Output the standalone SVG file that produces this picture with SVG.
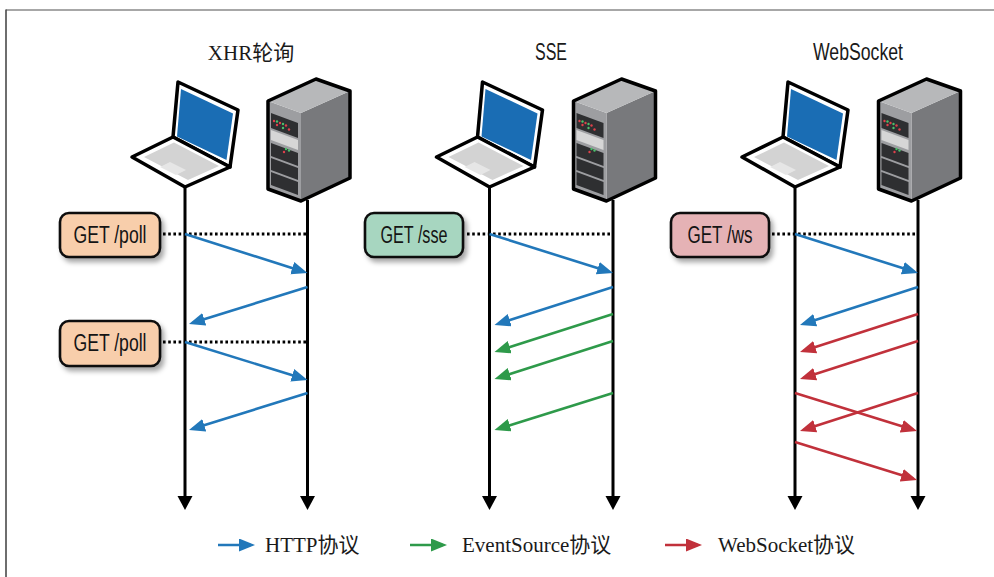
<svg xmlns="http://www.w3.org/2000/svg" width="994" height="577" viewBox="0 0 994 577">
  <style>
    .title-serif { font-family: "Liberation Serif", "Noto Sans CJK SC", serif; font-size: 21px; fill: #1a1a1a; }
    .title-sans { font-family: "Liberation Sans", "Noto Sans", sans-serif; font-size: 24px; fill: #1a1a1a; }
    .lbl { font-family: "Liberation Sans", "Noto Sans", sans-serif; font-size: 23px; fill: #141414; }
    .legend { font-family: "Liberation Serif", "Noto Sans CJK SC", serif; font-size: 21px; fill: #1a1a1a; }
    .life { stroke: #000; stroke-width: 3; fill: none; marker-end: url(#lifeHead); }
    .dots { stroke: #000; stroke-width: 3; stroke-dasharray: 2.6 2.6; fill: none; }
    .http { stroke: #2278ba; stroke-width: 2.6; fill: none; marker-end: url(#headBlue); }
    .es { stroke: #2e9a4a; stroke-width: 2.6; fill: none; marker-end: url(#headGreen); }
    .ws { stroke: #c1313b; stroke-width: 2.6; fill: none; marker-end: url(#headRed); }
    .box { stroke: #111; stroke-width: 2.6; filter: url(#shadow); }
    .outline { fill: none; stroke: #000; stroke-width: 3.5; stroke-linejoin: round; }
  </style>
  <defs>
    <filter id="shadow" x="-20%" y="-30%" width="150%" height="170%">
      <feDropShadow dx="3" dy="4" stdDeviation="2.5" flood-color="#000" flood-opacity="0.35"/>
    </filter>
    <marker id="headBlue" markerUnits="userSpaceOnUse" markerWidth="18" markerHeight="14" refX="12" refY="6.5" orient="auto">
      <path d="M0,0 L16,6.5 L0,13 Z" fill="#2278ba"/>
    </marker>
    <marker id="headGreen" markerUnits="userSpaceOnUse" markerWidth="18" markerHeight="14" refX="12" refY="6.5" orient="auto">
      <path d="M0,0 L16,6.5 L0,13 Z" fill="#2e9a4a"/>
    </marker>
    <marker id="headRed" markerUnits="userSpaceOnUse" markerWidth="18" markerHeight="14" refX="12" refY="6.5" orient="auto">
      <path d="M0,0 L16,6.5 L0,13 Z" fill="#c1313b"/>
    </marker>
    <marker id="lifeHead" markerUnits="userSpaceOnUse" markerWidth="16" markerHeight="16" refX="1" refY="7.5" orient="auto">
      <path d="M0,0 L14,7.5 L0,15 Z" fill="#000"/>
    </marker>

    <!-- laptop, drawn at the first column's client position -->
    <g id="laptop">
      <polygon points="173,137 178,82 238,110 230,167" fill="#fff"/>
      <polygon points="181,89 233,113.5 226.5,160 177,136.5" fill="#1a6db4"/>
      <polygon points="173,137 178,82 238,110 230,167" class="outline"/>
      <polygon points="132,157 173,137 230,167 185,187" fill="#fff"/>
      <polygon points="144,157 174,142.5 219,166 188,180" fill="#d3d3d3"/>
      <polygon points="160,167 170,162 186,170 176,175" fill="#e6e6e6"/>
      <polygon points="132,157 173,137 230,167 185,187" class="outline"/>
    </g>

    <!-- rack server, drawn at the first column's server position -->
    <g id="server">
      <polygon points="301,113 350,91 350,178 301,201" fill="#78797c"/>
      <polygon points="268,101 301,113 301,201 268,189" fill="#9d9ea1"/>
      <polygon points="268,101 316,79 350,91 301,113" fill="#b7b8ba"/>
      <polygon points="271,113 298,123 298,138 271,128" fill="#2e2f31"/>
      <polygon points="271,130 298,140 298,150 271,140" fill="#d6d6d6"/>
      <polygon points="271,143 298,153 298,166 271,156" fill="#2e2f31"/>
      <polygon points="271,158 298,168 298,180 271,170" fill="#2e2f31"/>
      <polygon points="271,172 298,182 298,195 271,185" fill="#2e2f31"/>
      <g fill="#e0404a">
        <circle cx="274" cy="121" r="1.2"/><circle cx="280" cy="123" r="1.2"/><circle cx="286" cy="125.5" r="1.2"/>
        <circle cx="277" cy="125" r="1.2"/><circle cx="289" cy="129.5" r="1.2"/><circle cx="284" cy="152" r="1.2"/>
      </g>
      <g fill="#4cc06a">
        <circle cx="277" cy="121.5" r="1.2"/><circle cx="283" cy="124" r="1.2"/><circle cx="283" cy="128" r="1.2"/>
        <circle cx="286" cy="149" r="1.2"/><circle cx="289" cy="150.5" r="1.2"/>
      </g>
      <polygon points="268,101 316,79 350,91 350,178 301,201 268,189" class="outline"/>
    </g>
  </defs>

  <!-- frame -->
  <line x1="6" y1="10" x2="994" y2="10" stroke="#8a8a8a" stroke-width="1.6"/>
  <line x1="6" y1="9.5" x2="6" y2="577" stroke="#4a4a4a" stroke-width="1.6"/>

  <!-- column titles -->
  <text class="title-serif" x="251" y="60" text-anchor="middle">XHR轮询</text>
  <text class="title-sans" x="551" y="60" text-anchor="middle" textLength="32" lengthAdjust="spacingAndGlyphs">SSE</text>
  <text class="title-sans" x="858" y="60" text-anchor="middle" textLength="90" lengthAdjust="spacingAndGlyphs">WebSocket</text>

  <!-- XHR column -->
  <g id="xhr-client"><use href="#laptop"/></g>
  <g id="xhr-server"><use href="#server"/></g>
  <g id="xhr-req1">
    <rect class="box" x="60" y="213" width="100" height="44" rx="9" fill="#f8ceab"/>
    <text class="lbl" x="110" y="243" text-anchor="middle" textLength="73" lengthAdjust="spacingAndGlyphs">GET /poll</text>
  </g>
  <g id="xhr-req2">
    <rect class="box" x="60" y="321" width="100" height="45" rx="9" fill="#f8ceab"/>
    <text class="lbl" x="110" y="351" text-anchor="middle" textLength="73" lengthAdjust="spacingAndGlyphs">GET /poll</text>
  </g>

  <!-- SSE column -->
  <g id="sse-client"><use href="#laptop" transform="translate(304.5,0)"/></g>
  <g id="sse-server"><use href="#server" transform="translate(305.5,0)"/></g>
  <g id="sse-req">
    <rect class="box" x="365" y="213" width="98" height="44" rx="9" fill="#a7d6c0"/>
    <text class="lbl" x="414" y="243" text-anchor="middle" textLength="67" lengthAdjust="spacingAndGlyphs">GET /sse</text>
  </g>

  <!-- WebSocket column -->
  <g id="ws-client"><use href="#laptop" transform="translate(610,0)"/></g>
  <g id="ws-server"><use href="#server" transform="translate(610.5,0)"/></g>
  <g id="ws-req">
    <rect class="box" x="671" y="213" width="98" height="44" rx="9" fill="#e5b2b5"/>
    <text class="lbl" x="720" y="243" text-anchor="middle" textLength="65" lengthAdjust="spacingAndGlyphs">GET /ws</text>
  </g>

  <!-- lifelines, request markers and messages -->
  <g id="connectors">
    <line class="life" x1="185" y1="187" x2="185" y2="497"/>
    <line class="life" x1="307.5" y1="200" x2="307.5" y2="497"/>
    <line class="life" x1="489.5" y1="187" x2="489.5" y2="497"/>
    <line class="life" x1="613" y1="200" x2="613" y2="497"/>
    <line class="life" x1="795" y1="187" x2="795" y2="497"/>
    <line class="life" x1="918" y1="200" x2="918" y2="497"/>

    <line class="dots" x1="163" y1="234" x2="308" y2="234"/>
    <line class="dots" x1="163" y1="342" x2="308" y2="342"/>
    <line class="dots" x1="467" y1="234" x2="613" y2="234"/>
    <line class="dots" x1="772" y1="234" x2="918" y2="234"/>

    <!-- XHR polling -->
    <line class="http" x1="185" y1="234" x2="303.7" y2="271.8"/>
    <line class="http" x1="307.5" y1="287" x2="192.8" y2="322.8"/>
    <line class="http" x1="185" y1="342" x2="303.7" y2="378.8"/>
    <line class="http" x1="307.5" y1="393" x2="192.8" y2="428.8"/>

    <!-- SSE -->
    <line class="http" x1="489.5" y1="234" x2="609.2" y2="271.8"/>
    <line class="http" x1="613" y1="287" x2="498.3" y2="323.8"/>
    <line class="es" x1="613" y1="314" x2="498.3" y2="350.8"/>
    <line class="es" x1="613" y1="341" x2="498.3" y2="377.8"/>
    <line class="es" x1="613" y1="393" x2="498.3" y2="428.8"/>

    <!-- WebSocket -->
    <line class="http" x1="795" y1="234" x2="914.2" y2="271.8"/>
    <line class="http" x1="918" y1="287" x2="803.8" y2="323.8"/>
    <line class="ws" x1="918" y1="314" x2="803.8" y2="350.8"/>
    <line class="ws" x1="918" y1="341" x2="803.8" y2="377.8"/>
    <line class="ws" x1="795" y1="393" x2="913.2" y2="429.8"/>
    <line class="ws" x1="918" y1="393" x2="803.8" y2="429.8"/>
    <line class="ws" x1="795" y1="442" x2="913.2" y2="478.8"/>
  </g>

  <!-- legend -->
  <g id="legend">
    <line class="http" x1="218" y1="545" x2="251" y2="545" stroke-width="3"/>
    <text class="legend" x="265" y="552">HTTP协议</text>
    <line class="es" x1="410" y1="545" x2="443" y2="545" stroke-width="3"/>
    <text class="legend" x="462" y="552">EventSource协议</text>
    <line class="ws" x1="665" y1="545" x2="698" y2="545" stroke-width="3"/>
    <text class="legend" x="718" y="552">WebSocket协议</text>
  </g>
</svg>
